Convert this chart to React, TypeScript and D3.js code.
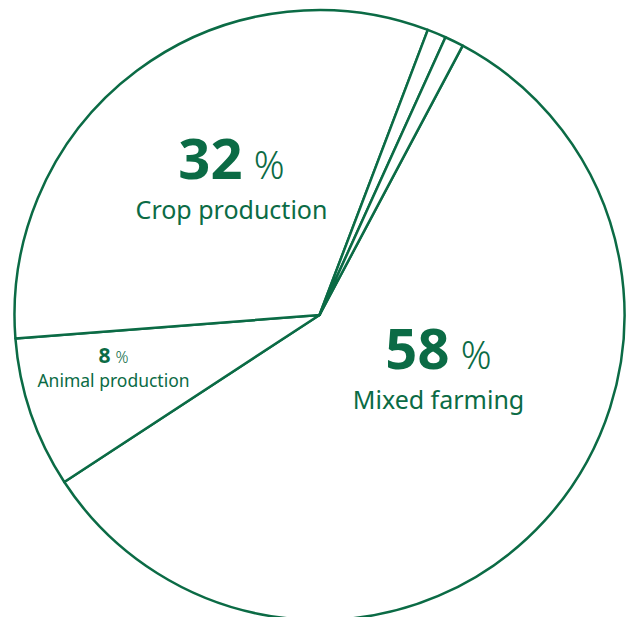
import React from "react";
import * as d3 from "d3";

const categories = ["Mixed farming", "Animal production", "Crop production", "Other A", "Other B"];
const values = [58, 8, 32, 1, 1];
const showLabel = [true, true, true, false, false];

const W = 634;
const H = 617;
const CX = 319.5;
const CY = 315;
const R = 305;
const COLOR = "#0b6b45";
const FONT = "'Noto Sans', 'Open Sans', sans-serif";

// label layout: offset from pie centre (px), and font sizes
const labelLayout: Record<string, { dx: number; dy: number; big: number; pct: number; name: number; gap: number }> = {
  "Mixed farming": { dx: 119, dy: 54, big: 56, pct: 38, name: 25, gap: 40 },
  "Animal production": { dx: -206, dy: 48, big: 21, pct: 16, name: 17.5, gap: 24 },
  "Crop production": { dx: -88, dy: -136, big: 56, pct: 38, name: 25, gap: 40 },
};

export default function App() {
  const pie = d3
    .pie<number>()
    .sort(null)
    .startAngle((28 * Math.PI) / 180)
    .endAngle((28 * Math.PI) / 180 + 2 * Math.PI);
  const arcs = pie(values);
  const arc = d3.arc<d3.PieArcDatum<number>>().innerRadius(0).outerRadius(R);

  return (
    <svg
      width={W}
      height={H}
      style={{ position: "absolute", left: 0, top: 0, background: "#fff" }}
    >
      <g transform={`translate(${CX},${CY})`}>
        {arcs.map((a, i) => (
          <path
            key={categories[i]}
            d={arc(a) || ""}
            fill="#fff"
            stroke={COLOR}
            strokeWidth={2.5}
            strokeLinejoin="round"
          />
        ))}
        {arcs.map((a, i) => {
          if (!showLabel[i]) return null;
          const L = labelLayout[categories[i]];
          return (
            <g key={"l" + i} transform={`translate(${L.dx},${L.dy})`} fill={COLOR} fontFamily={FONT}>
              <text textAnchor="middle">
                <tspan fontWeight={700} fontSize={L.big}>{values[i]}</tspan>
                <tspan fontSize={L.pct} fontWeight={300} dx={L.pct * 0.3}>%</tspan>
              </text>
              <text textAnchor="middle" y={L.gap} fontSize={L.name}>
                {categories[i]}
              </text>
            </g>
          );
        })}
      </g>
    </svg>
  );
}
